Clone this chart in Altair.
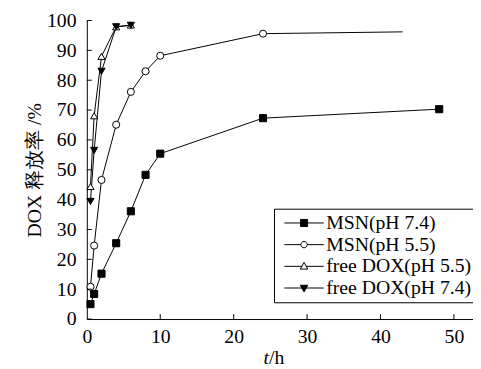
import altair as alt
import pandas as pd

# ---- data ----
series_names = ["MSN(pH 7.4)", "MSN(pH 5.5)", "free DOX(pH 5.5)", "free DOX(pH 7.4)"]

t_msn74 = [0.5, 1, 2, 4, 6, 8, 10, 24, 48]
v_msn74 = [5.0, 8.4, 15.2, 25.4, 36.1, 48.3, 55.4, 67.3, 70.3]

t_msn55 = [0.5, 1, 2, 4, 6, 8, 10, 24]
v_msn55 = [10.8, 24.6, 46.6, 65.1, 76.1, 83.0, 88.2, 95.6]
# line continues without marker
t_msn55_tail = [43]
v_msn55_tail = [96.2]

t_free = [0.5, 1, 2, 4, 6]
v_free55 = [44.4, 68.1, 88.0, 97.9, 98.5]
v_free74 = [39.4, 56.5, 83.0, 97.9, 98.4]

x_ticks = [0, 10, 20, 30, 40, 50]
y_ticks = [0, 10, 20, 30, 40, 50, 60, 70, 80, 90, 100]

rows = []
for t, v in zip(t_msn74, v_msn74):
    rows.append({"series": series_names[0], "t": t, "v": v, "mark": True})
for t, v in zip(t_msn55, v_msn55):
    rows.append({"series": series_names[1], "t": t, "v": v, "mark": True})
for t, v in zip(t_msn55_tail, v_msn55_tail):
    rows.append({"series": series_names[1], "t": t, "v": v, "mark": False})
for t, v in zip(t_free, v_free55):
    rows.append({"series": series_names[2], "t": t, "v": v, "mark": True})
for t, v in zip(t_free, v_free74):
    rows.append({"series": series_names[3], "t": t, "v": v, "mark": True})
df = pd.DataFrame(rows)

FONT = "'Liberation Serif', 'Times New Roman', serif"
FS = 20
W, H = 392, 303
XMAX = 52.6

xscale = alt.Scale(domain=[0, XMAX], nice=False, zero=False)
yscale = alt.Scale(domain=[0, 100], nice=False)

x_axis = alt.Axis(values=x_ticks, ticks=False, tickSize=0, grid=False, labelFont=FONT,
                  labelFontSize=FS, labelColor="black", labelPadding=8, domainColor="black",
                  labelFlush=False, labelOverlap=False, title=None)
y_axis = alt.Axis(values=y_ticks, ticks=False, tickSize=0, grid=False, labelFont=FONT,
                  labelFontSize=FS, labelColor="black", labelPadding=11, domainColor="black",
                  labelOverlap=False,
                  title="DOX 释放率 /%", titleFont=FONT, titleFontSize=FS, titleFontWeight="normal",
                  titleColor="black", titleX=-53, titleY=H / 2, titleBaseline="middle",
                  titleAnchor="middle")

X = alt.X("t:Q", scale=xscale, axis=x_axis)
Y = alt.Y("v:Q", scale=yscale, axis=y_axis)

base = alt.Chart(df)

lines = base.mark_line(color="black", strokeWidth=1).encode(
    x=X, y=Y, detail="series:N", order="t:Q",
)

marker_shapes = ["square", "circle", "triangle-up", "triangle-down"]
marker_fills = ["black", "white", "white", "black"]

points = base.transform_filter("datum.mark").mark_point(
    filled=True, size=52, stroke="black", strokeWidth=1, opacity=1
).encode(
    x=X, y=Y,
    shape=alt.Shape("series:N", scale=alt.Scale(domain=series_names, range=marker_shapes), legend=None),
    fill=alt.Fill("series:N", scale=alt.Scale(domain=series_names, range=marker_fills), legend=None),
)

# legend symbol paths: 1 unit = 10 px (symbolSize 400)
legend_paths = [
    "M-2,0H2M-0.36,-0.36H0.36V0.36H-0.36Z",
    "M-2,0H-0.32M0.32,0H2M0.32,0A0.32,0.32,0,1,1,-0.32,0A0.32,0.32,0,1,1,0.32,0Z",
    "M-2,0H-0.2M0.2,0H2M0,-0.4L0.38,0.28H-0.38Z",
    "M-2,0H2M0,0.4L0.38,-0.28H-0.38Z",
]

leg = alt.Legend(title=None, orient="none", legendX=190, legendY=191, strokeColor="black",
                 padding=4, labelFont=FONT, labelFontSize=FS, labelColor="black",
                 labelOffset=12, symbolOffset=16, symbolSize=400, symbolStrokeColor="black",
                 symbolStrokeWidth=1, rowPadding=1, labelLimit=400, symbolOpacity=1)

legend_layer = base.transform_filter("datum.t < -100").mark_point(
    filled=True, strokeWidth=1, opacity=1
).encode(
    x=X, y=Y,
    shape=alt.Shape("series:N", scale=alt.Scale(domain=series_names, range=legend_paths), legend=leg),
    fill=alt.Fill("series:N", scale=alt.Scale(domain=series_names, range=marker_fills), legend=leg),
    stroke=alt.Stroke("series:N", scale=alt.Scale(domain=series_names, range=["black"] * 4), legend=leg),
)

ytick_df = pd.DataFrame({"v": y_ticks})
xtick_df = pd.DataFrame({"t": [t for t in x_ticks if t > 0]})

yticks = alt.Chart(ytick_df).mark_rule(color="black", strokeWidth=1).encode(
    y=Y, x=alt.value(0), x2=alt.value(5)
)
xticks = alt.Chart(xtick_df).mark_rule(color="black", strokeWidth=1).encode(
    x=X, y=alt.value(H), y2=alt.value(H - 5)
)

one = pd.DataFrame({"a": [0]})
t_text = alt.Chart(one).mark_text(font=FONT, fontSize=FS, fontStyle="italic", align="right",
                                  baseline="middle", color="black").encode(
    text=alt.value("t"), x=alt.value(185), y=alt.value(H + 40))
h_text = alt.Chart(one).mark_text(font=FONT, fontSize=FS, align="left",
                                  baseline="middle", color="black").encode(
    text=alt.value("/h"), x=alt.value(185), y=alt.value(H + 40))

chart = alt.layer(lines, points, legend_layer, yticks, xticks, t_text, h_text).resolve_scale(
    shape="independent", fill="independent", stroke="independent"
).properties(
    width=W, height=H,
    padding={"left": 80, "top": 10, "right": 0, "bottom": 48},
    autosize=alt.AutoSizeParams(type="none"),
    background="white",
).configure_view(stroke=None)

chart.save("out.html", embed_options={"renderer": "svg", "actions": False})
